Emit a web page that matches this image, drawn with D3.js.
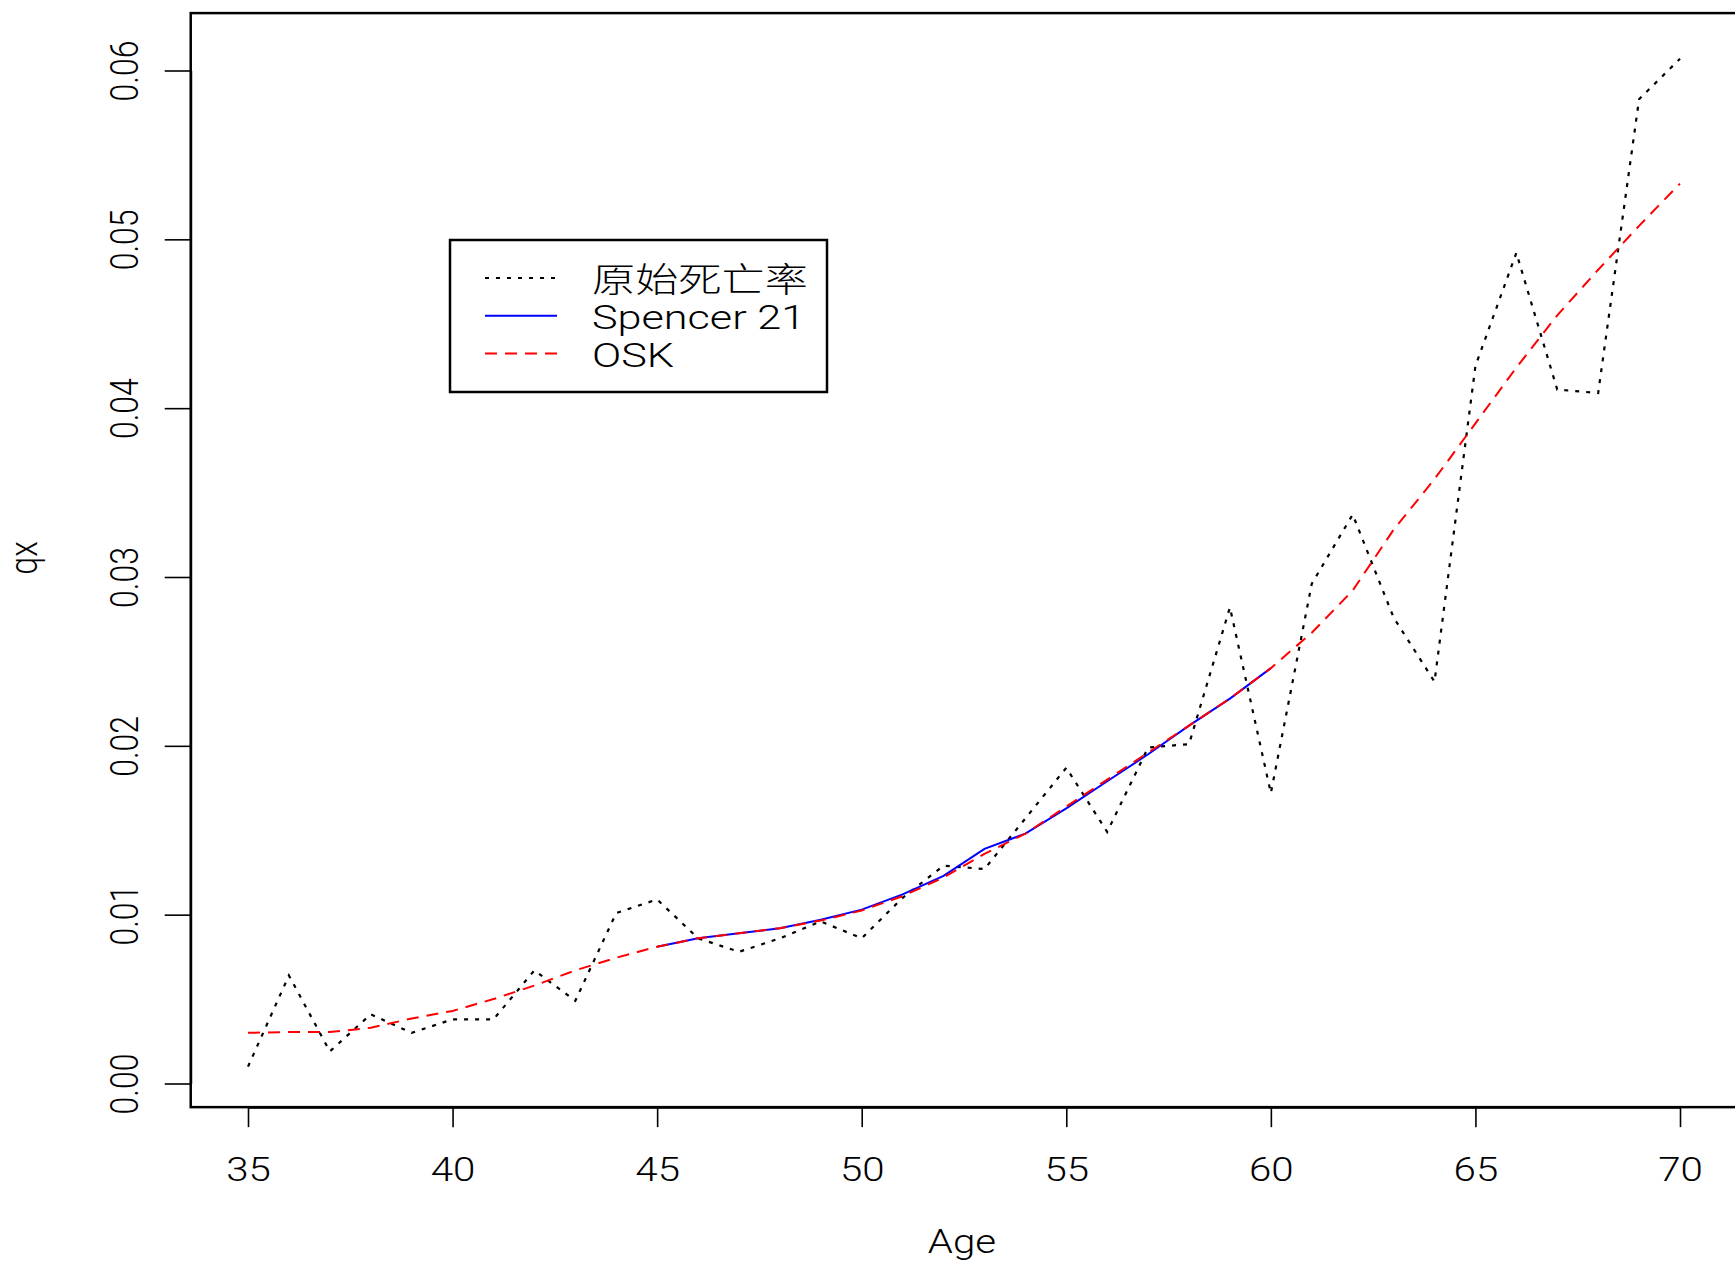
<!DOCTYPE html>
<html>
<head>
<meta charset="utf-8">
<script src="https://cdn.jsdelivr.net/npm/d3@7"></script>
<style>
  body { margin: 0; background: #fff; }
  svg { display: block; }
  text { font-family: Roboto, "Liberation Sans", Arial, sans-serif; font-weight: 300; fill: #000; }
</style>
</head>
<body>
<div id="chart"></div>
<script>
// observed ages and crude mortality rates
var ages = [35, 36, 37, 38, 39, 40, 41, 42, 43, 44, 45, 46, 47, 48, 49, 50, 51, 52,
            53, 54, 55, 56, 57, 58, 59, 60, 61, 62, 63, 64, 65, 66, 67, 68, 69, 70];
var rawQx = [0.0010, 0.0064, 0.0019, 0.0041, 0.0030, 0.0038, 0.0038, 0.0067, 0.0049,
             0.0101, 0.0109, 0.0086, 0.0078, 0.0086, 0.0096, 0.0086, 0.0110, 0.0129,
             0.0127, 0.0157, 0.0187, 0.0149, 0.0199, 0.0201, 0.0282, 0.0172, 0.0296,
             0.0337, 0.0276, 0.0238, 0.0425, 0.0492, 0.0411, 0.0409, 0.0583, 0.0607];
// OSK graduated rates (whole range)
var oskQx = [0.0030, 0.00305, 0.00305, 0.0033, 0.00385, 0.0043, 0.0050, 0.0058, 0.0067,
             0.00745, 0.0081, 0.0086, 0.0089, 0.0092, 0.00965, 0.01025, 0.0111, 0.0122,
             0.0136, 0.0148, 0.0164, 0.0180, 0.0196, 0.0212, 0.0228, 0.0246, 0.0267,
             0.0292, 0.0328, 0.0358, 0.0391, 0.0424, 0.0455, 0.0482, 0.0508, 0.0533];
// Spencer 21-term only covers 45..60
var spencerAges = [45, 46, 47, 48, 49, 50, 51, 52, 53, 54, 55, 56, 57, 58, 59, 60];
var spencerQx = [0.0081, 0.0086, 0.0089, 0.0092, 0.0097, 0.0103, 0.0112, 0.0123,
                 0.0139, 0.0148, 0.0163, 0.0179, 0.0195, 0.0212, 0.0228, 0.0246];

var xTicks = [35, 40, 45, 50, 55, 60, 65, 70];
var yTicks = [0, 0.01, 0.02, 0.03, 0.04, 0.05, 0.06];
var legendLabels = ["原始死亡率", "Spencer 21", "OSK"];

var width = 1735, height = 1264;
var sx = 1.22; // the picture is stretched sideways, text too

var x = d3.scaleLinear().domain([35, 70]).range([248, 1680]);
var y = d3.scaleLinear().domain([0, 0.06]).range([1083.5, 70.5]);

var svg = d3.select("#chart").append("svg")
    .attr("width", width)
    .attr("height", height);

var line = d3.line()
    .x(function (d) { return x(d[0]); })
    .y(function (d) { return y(d[1]); });

var rawPts = ages.map(function (a, i) { return [a, rawQx[i]]; });
var oskPts = ages.map(function (a, i) { return [a, oskQx[i]]; });
var spPts = spencerAges.map(function (a, i) { return [a, spencerQx[i]]; });

svg.append("path").datum(rawPts)
    .attr("d", line)
    .attr("fill", "none")
    .attr("stroke", "#000")
    .attr("stroke-width", 2.2)
    .attr("stroke-dasharray", "4,7");

svg.append("path").datum(spPts)
    .attr("d", line)
    .attr("fill", "none")
    .attr("stroke", "#0000ff")
    .attr("stroke-width", 2);

svg.append("path").datum(oskPts)
    .attr("d", line)
    .attr("fill", "none")
    .attr("stroke", "#ff0000")
    .attr("stroke-width", 2)
    .attr("stroke-dasharray", "12,8");

// plot box (R pads the ranges by 4%)
var boxL = x(33.6), boxR = x(71.4), boxT = y(0.0634), boxB = y(-0.0014);
svg.append("rect")
    .attr("x", boxL)
    .attr("y", boxT)
    .attr("width", boxR - boxL)
    .attr("height", boxB - boxT)
    .attr("fill", "none")
    .attr("stroke", "#000")
    .attr("stroke-width", 2.5);

// x axis
var xAxis = svg.append("g")
    .attr("transform", "translate(0," + boxB + ")")
    .call(d3.axisBottom(x).tickValues(xTicks).tickSize(20).tickSizeOuter(0).tickFormat(d3.format("d")));
xAxis.select(".domain").attr("stroke-width", 2);
xAxis.selectAll(".tick line").attr("stroke-width", 1.6);
xAxis.selectAll(".tick text")
    .attr("x", null).attr("y", null).attr("dy", null)
    .attr("fill", "#000")
    .style("font-size", "33px")
    .attr("text-anchor", "middle")
    .attr("transform", "translate(0,74) scale(" + sx + ",1)");

// y axis
var yAxis = svg.append("g")
    .attr("transform", "translate(" + boxL + ",0)")
    .call(d3.axisLeft(y).tickValues(yTicks).tickSize(26).tickSizeOuter(0).tickFormat(d3.format(".2f")));
yAxis.select(".domain").attr("stroke-width", 2);
yAxis.selectAll(".tick line").attr("stroke-width", 1.6);
yAxis.selectAll(".tick text")
    .attr("x", null).attr("y", null).attr("dy", null)
    .attr("fill", "#000")
    .style("font-size", "32px")
    .attr("text-anchor", "middle")
    .attr("transform", "translate(-53,0) scale(" + sx + ",1) rotate(-90)");

// axis titles
svg.append("text")
    .attr("transform", "translate(962,1253) scale(" + sx + ",1)")
    .attr("text-anchor", "middle")
    .style("font-size", "33px")
    .text("Age");

svg.append("text")
    .attr("transform", "translate(37,558) scale(" + sx + ",1) rotate(-90)")
    .attr("text-anchor", "middle")
    .style("font-size", "32px")
    .text("qx");

// legend
var legend = svg.append("g");
legend.append("rect")
    .attr("x", 450).attr("y", 240)
    .attr("width", 377).attr("height", 152)
    .attr("fill", "#fff")
    .attr("stroke", "#000")
    .attr("stroke-width", 2.5);

var legendStyles = [
    { color: "#000", dash: "4,7" },
    { color: "#0000ff", dash: null },
    { color: "#ff0000", dash: "12,8" }
];
legendLabels.forEach(function (lab, i) {
    var ly = 278 + i * 37.7;
    legend.append("line")
        .attr("x1", 485).attr("x2", 557)
        .attr("y1", ly).attr("y2", ly)
        .attr("stroke", legendStyles[i].color)
        .attr("stroke-width", 2)
        .attr("stroke-dasharray", legendStyles[i].dash);
    legend.append("text")
        .attr("transform", "translate(592," + (ly + 13.5) + ") scale(1.27,1)")
        .style("font-size", "34px")
        .style("font-family", i === 0 ? '"Noto Sans CJK SC", Roboto, sans-serif' : null)
        .text(lab);
});
</script>
</body>
</html>
